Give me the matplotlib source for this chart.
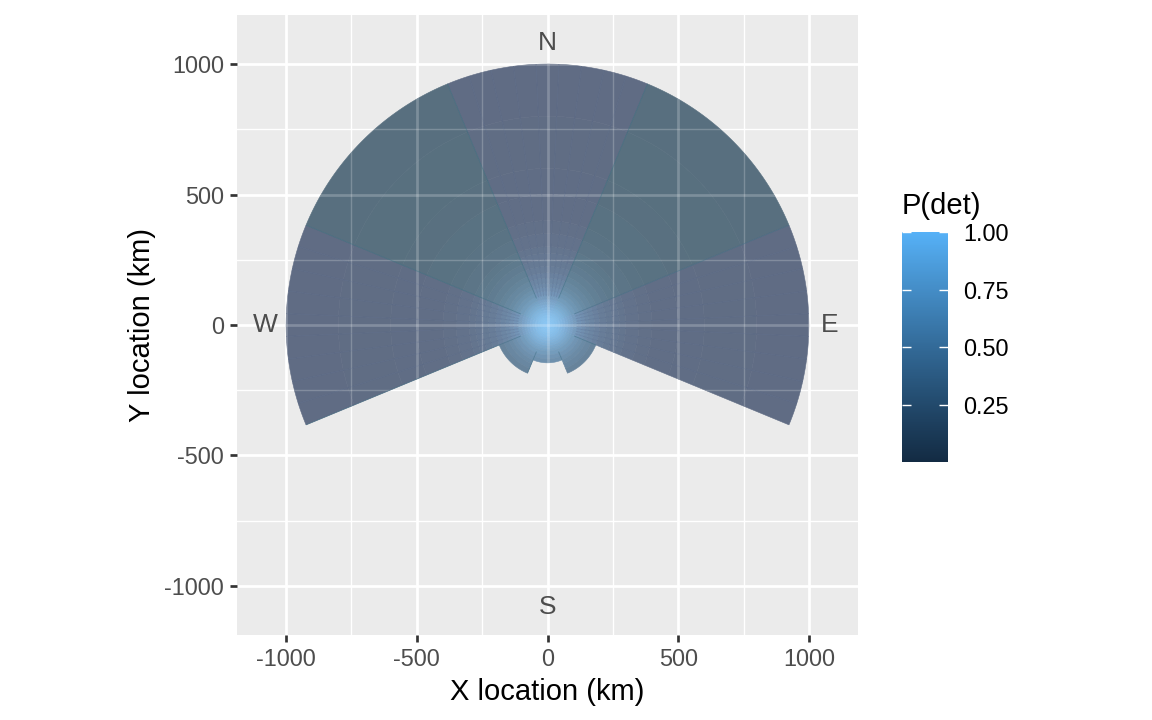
import numpy as np
import matplotlib
matplotlib.use("Agg")
import matplotlib.pyplot as plt
from matplotlib.collections import PolyCollection, LineCollection
from matplotlib.colors import LinearSegmentedColormap, Normalize
from matplotlib.cm import ScalarMappable
from matplotlib.path import Path

# ---------------- data ----------------
range_edges_km = [0, 10, 20, 30, 40, 50, 60, 70, 80, 90, 100, 115, 130, 145,
                  160, 180, 200, 225, 250, 275, 300, 350, 400, 500, 600, 800, 1000]
p_det = [1.00, 0.99, 0.97, 0.94, 0.90, 0.85, 0.80, 0.74, 0.68, 0.62,
         0.55, 0.48, 0.42, 0.36, 0.31, 0.26, 0.21, 0.17, 0.14, 0.11,
         0.08, 0.05, 0.03, 0.015, 0.007, 0.002]

sector_start_bearing = [-22.5, 22.5, 67.5, 112.5, 157.5, 202.5, 247.5, 292.5]
sector_width_deg = 45.0
sector_max_range_km = [1000, 1000, 1000, 200, 145, 200, 1000, 1000]

compass_labels = ["N", "E", "S", "W"]
compass_bearing = [0, 90, 180, 270]

axis_ticks = [-1000, -500, 0, 500, 1000]
minor_ticks = [-750, -250, 250, 750]
cbar_ticks = [0.25, 0.50, 0.75, 1.00]

# ---------------- style ----------------
sector_subdiv = [9, 1, 9, 1, 1, 1, 9, 1]
sector_shift = [(2, -3, 9), (-10, 2, 2), (2, -3, 9), (-5, 0, 4),
                (-5, 0, 4), (-5, 0, 4), (2, -3, 9), (-10, 2, 2)]
ALPHA = 0.65
BG = np.array([235, 235, 235]) / 255.0
SEAM_START_KM = 110

plt.rcParams['font.family'] = ['Liberation Sans', 'DejaVu Sans']


def hex2rgb(h):
    h = h.lstrip('#')
    return np.array([int(h[i:i + 2], 16) for i in (0, 2, 4)]) / 255.0


M = np.array([[0.4124, 0.3576, 0.1805], [0.2126, 0.7152, 0.0722], [0.0193, 0.1192, 0.9505]])
WP = np.array([0.95047, 1.0, 1.08883])


def srgb_to_lab(c):
    c = np.where(c <= 0.04045, c / 12.92, ((c + 0.055) / 1.055) ** 2.4)
    xyz = M @ c / WP
    f = np.where(xyz > 0.008856, np.cbrt(xyz), 7.787 * xyz + 16 / 116)
    return np.array([116 * f[1] - 16, 500 * (f[0] - f[1]), 200 * (f[1] - f[2])])


def lab_to_srgb(lab):
    fy = (lab[0] + 16) / 116
    f = np.array([fy + lab[1] / 500, fy, fy - lab[2] / 200])
    xyz = np.where(f ** 3 > 0.008856, f ** 3, (f - 16 / 116) / 7.787) * WP
    c = np.linalg.inv(M) @ xyz
    c = np.where(c <= 0.0031308, 12.92 * c, 1.055 * np.abs(c) ** (1 / 2.4) - 0.055)
    return np.clip(c, 0, 1)


lo, hi = srgb_to_lab(hex2rgb("#132B43")), srgb_to_lab(hex2rgb("#56B1F7"))
cmap = LinearSegmentedColormap.from_list(
    "gg", [lab_to_srgb(lo + (hi - lo) * t) for t in np.linspace(0, 1, 11)])
norm = Normalize(vmin=min(p_det), vmax=max(p_det))

fig = plt.figure(figsize=(11.52, 7.2), dpi=100)
ax = fig.add_axes([237 / 1152, 1 - 635 / 720, 621 / 1152, 620 / 720])
ax.set_facecolor("#EBEBEB")
ax.set_xlim(-1188, 1188)
ax.set_ylim(-1188, 1188)


def gridlines(alpha, z, clip=None):
    arts = []
    for v, lw in [(v, 1.0) for v in minor_ticks] + [(v, 1.95) for v in axis_ticks]:
        arts.append(ax.axvline(v, color="white", lw=lw, alpha=alpha, zorder=z))
        arts.append(ax.axhline(v, color="white", lw=lw, alpha=alpha, zorder=z))
    if clip is not None:
        for a in arts:
            a.set_clip_path(clip, ax.transData)


gridlines(1.0, 0)


def arc(r, b0, b1):
    n = max(2, int(np.ceil(abs(b1 - b0))) + 1)
    b = np.radians(np.linspace(b0, b1, n))
    return np.column_stack([r * np.sin(b), r * np.cos(b)])


def ray(b, r0, r1):
    t = np.radians(b)
    return [(r0 * np.sin(t), r0 * np.cos(t)), (r1 * np.sin(t), r1 * np.cos(t))]


polys, faces = [], []
seams, seam_cols = [], []
outline = []
for s, b0 in enumerate(sector_start_bearing):
    nsub = sector_subdiv[s]
    w = sector_width_deg / nsub
    shift = np.array(sector_shift[s]) / 255.0
    rmax = sector_max_range_km[s]
    outline.append(arc(rmax, b0, b0 + sector_width_deg))
    if rmax > SEAM_START_KM:
        seams.append(ray(b0, SEAM_START_KM, rmax))
        seam_cols.append((0.22, 0.42, 0.50, 0.5))
    for k in range(nsub):
        ba, bb2 = b0 + k * w, b0 + (k + 1) * w
        if k > 0:
            seams.append(ray(ba, SEAM_START_KM, rmax))
            seam_cols.append((0.28, 0.36, 0.52, 0.22))
        for i in range(len(p_det)):
            r0, r1 = range_edges_km[i], range_edges_km[i + 1]
            if r1 > rmax:
                break
            outer = arc(r1, ba, bb2)
            inner = arc(r0, bb2, ba) if r0 > 0 else np.array([[0.0, 0.0]])
            polys.append(np.vstack([outer, inner]))
            c = np.array(cmap(norm(p_det[i]))[:3]) + shift * (1 - p_det[i])
            c = ALPHA * np.clip(c, 0, 1) + (1 - ALPHA) * BG
            faces.append(tuple(c))

pc = PolyCollection(polys, facecolors=faces, edgecolors=faces, linewidths=0.4, zorder=2)
ax.add_collection(pc)

outline_xy = np.vstack(outline)
clip_path = Path(np.vstack([outline_xy, outline_xy[:1]]), closed=True)
gridlines(0.22, 3, clip=clip_path)

lc = LineCollection(seams, colors=seam_cols, linewidths=0.6, zorder=3)
ax.add_collection(lc)

lab_r = 1.08 * max(sector_max_range_km)
for lab, b in zip(compass_labels, compass_bearing):
    ax.text(lab_r * np.sin(np.radians(b)), lab_r * np.cos(np.radians(b)), lab,
            ha="center", va="center", fontsize=19, color="#4D4D4D", zorder=4)

ax.set_xticks(axis_ticks)
ax.set_yticks(axis_ticks)
ax.set_xticklabels([str(t) for t in axis_ticks])
ax.set_yticklabels([str(t) for t in axis_ticks])
ax.tick_params(length=5.3, width=1.95, color="#333333", labelsize=16.9,
               labelcolor="#4D4D4D", pad=4.2)
for sp in ax.spines.values():
    sp.set_visible(False)
ax.set_xlabel("X location (km)", fontsize=21, labelpad=5)
ax.set_ylabel("Y location (km)", fontsize=21, labelpad=6)

cax = fig.add_axes([902 / 1152, 1 - 462 / 720, 46 / 1152, 230 / 720])
sm = ScalarMappable(norm=norm, cmap=cmap)
cb = fig.colorbar(sm, cax=cax, ticks=cbar_ticks)
cb.outline.set_visible(False)
cb.ax.set_yticklabels(["%.2f" % t for t in cbar_ticks])
cb.ax.tick_params(direction="in", length=6.5, width=1.0, color="white",
                  left=True, right=True, labelsize=16.9, pad=10.8)
fig.text(902 / 1152, 1 - 206 / 720, "P(det)", fontsize=21, ha="left", va="center")

fig.savefig("out.png", dpi=100)
